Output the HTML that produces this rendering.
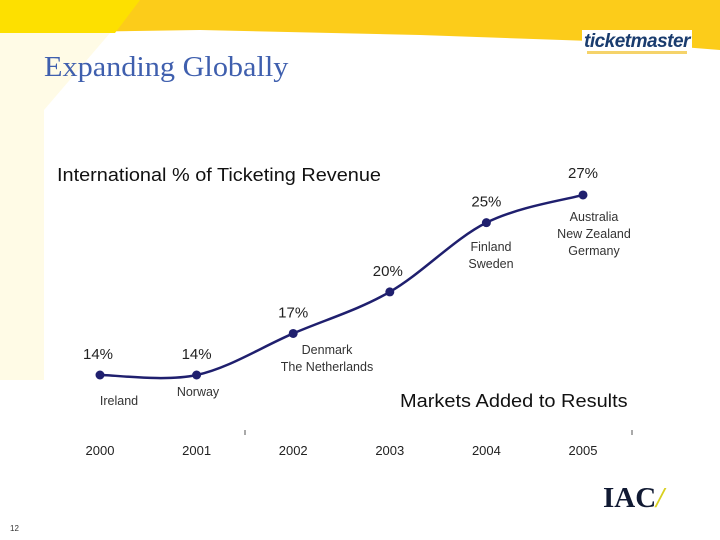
<!DOCTYPE html>
<html><head><meta charset="utf-8"><style>
body{margin:0;width:720px;height:540px;overflow:hidden;background:#fff;font-family:"Liberation Sans",sans-serif;position:relative}
.t{position:absolute;white-space:nowrap}
</style></head><body>
<svg width="720" height="540" style="position:absolute;left:0;top:0">
<polygon points="0,0 720,0 720,50 620,42 420,35 200,30 0,33" fill="#fccc1a"/>
<polygon points="0,0 140,0 115,33 0,33" fill="#fde000"/>
<polygon points="0,33 110,33 44,110 44,380 0,380" fill="#fffbe6"/>
<rect x="582" y="30" width="110" height="28" fill="#fff"/>
<rect x="587" y="51" width="100" height="3" fill="#f5d36a"/>
</svg>
<div class="t" style="left:584px;top:31px;font-size:19px;font-weight:bold;font-style:italic;color:#1a3c6e;letter-spacing:-0.5px">ticketmaster</div>
<div class="t" style="left:44px;top:52px;font-family:'Liberation Serif',serif;font-size:28px;color:#3f5fae;transform:scaleX(1.08);transform-origin:left">Expanding Globally</div>
<div class="t" style="left:57px;top:165px;font-size:18px;color:#111;transform:scaleX(1.105);transform-origin:left">International % of Ticketing Revenue</div>
<div class="t" style="left:400px;top:391px;font-size:18px;color:#111;transform:scaleX(1.11);transform-origin:left">Markets Added to Results</div>
<svg id="chart" width="720" height="540" style="position:absolute;left:0;top:0"></svg>
<div class="t" style="left:10px;top:524px;font-size:8px;color:#333">12</div>
<div class="t" style="left:603px;top:482px;font-family:'Liberation Serif',serif;font-size:29px;font-weight:bold;color:#111a33">IAC<span style="color:#d8d020;font-style:italic">/</span></div>
<script>
const years=["2000","2001","2002","2003","2004","2005"];
const values=[14,14,17,20,25,27];
const valueLabels=["14%","14%","17%","20%","25%","27%"];
const markets=[["Ireland"],["Norway"],["Denmark","The Netherlands"],[],["Finland","Sweden"],["Australia","New Zealand","Germany"]];
const NS="http://www.w3.org/2000/svg";
const svg=document.getElementById('chart');
const x=i=>100+i*96.6;
const y=v=>375-(v-14)*13.85;
function mk(t,a){const e=document.createElementNS(NS,t);for(const k in a)e.setAttribute(k,a[k]);svg.appendChild(e);return e;}
const P=values.map((v,i)=>[x(i),y(v)]);
let d=`M${P[0][0]},${P[0][1]}`;
for(let i=0;i<P.length-1;i++){const p0=P[Math.max(0,i-1)],p1=P[i],p2=P[i+1],p3=P[Math.min(P.length-1,i+2)];
d+=` C${p1[0]+(p2[0]-p0[0])/6},${p1[1]+(p2[1]-p0[1])/6} ${p2[0]-(p3[0]-p1[0])/6},${p2[1]-(p3[1]-p1[1])/6} ${p2[0]},${p2[1]}`;}
const line=mk('path',{d:d,fill:'none',stroke:'#1f1f6e','stroke-width':2.5});


const tk1=mk('line',{x1:245,y1:430,x2:245,y2:435,stroke:'#555'});


const tk2=mk('line',{x1:632,y1:430,x2:632,y2:435,stroke:'#555'});


const lblOff=[[-2,-16],[0,-16],[0,-16],[-2,-16],[0,-16],[0,-17]];
values.forEach((v,i)=>{
 const c=mk('circle',{cx:x(i),cy:y(v),r:4.5,fill:'#1f1f6e'});
 
 
 const t=mk('text',{x:x(i)+lblOff[i][0],y:y(v)+lblOff[i][1],'text-anchor':'middle','font-size':15,fill:'#222','font-family':'Liberation Sans, sans-serif'});
 t.textContent=valueLabels[i];
 
 
 const yl=mk('text',{x:x(i),y:455,'text-anchor':'middle','font-size':13,fill:'#222','font-family':'Liberation Sans, sans-serif'});
 yl.textContent=years[i];
 
 
});
const mPos=[[119,405],[198,396],[327,354],[0,0],[491,251],[594,221]];
markets.forEach((m,i)=>{m.forEach((s,j)=>{
 const t=mk('text',{x:mPos[i][0],y:mPos[i][1]+j*17,'text-anchor':'middle','font-size':12.5,fill:'#333','font-family':'Liberation Sans, sans-serif'});
 t.textContent=s;
 
 
});});
</script>
</body></html>
